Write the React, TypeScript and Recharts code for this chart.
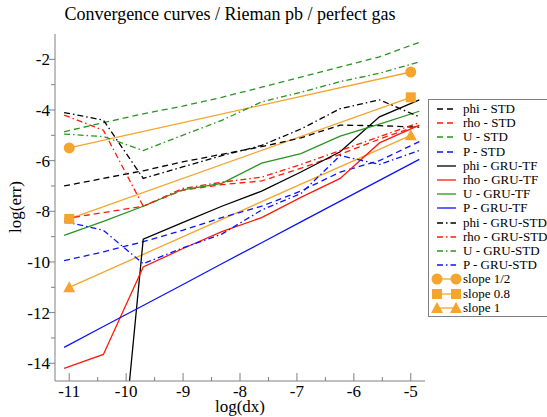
import React from 'react';
import { LineChart, Line, XAxis, YAxis } from 'recharts';

// log(dx) sample points (dx = 2^-16 ... 2^-7)
const X_LOG = [-11.09, -10.40, -9.70, -9.01, -8.32, -7.62, -6.93, -6.24, -5.55, -4.85];

const PHI_STD = [-7.0, -6.7, -6.4, -6.05, -5.75, -5.45, -5.1, -4.6, -4.62, -4.68];
const RHO_STD = [-8.3, -8.05, -7.8, -7.17, -6.95, -6.8, -6.3, -5.75, -5.15, -4.6];
const U_STD = [-4.86, -4.5, -4.15, -3.85, -3.5, -3.1, -2.7, -2.3, -1.9, -1.33];
const P_STD = [-9.95, -9.6, -9.2, -8.75, -8.25, -7.8, -7.2, -6.45, -6.0, -5.25];

const PHI_GRU_TF = [null, -25.4, -9.1, -8.45, -7.8, -7.2, -6.45, -5.65, -4.27, -3.6];
const RHO_GRU_TF = [-14.2, -13.65, -10.2, -9.48, -8.8, -8.25, -7.45, -6.7, -5.3, -4.6];
const U_GRU_TF = [-8.95, -8.4, -7.8, -7.15, -6.9, -6.1, -5.72, -5.03, -4.56, -4.05];
const P_GRU_TF = [-13.37, -12.55, -11.72, -10.9, -10.07, -9.24, -8.42, -7.6, -6.78, -5.95];

const PHI_GRU_STD = [-4.1, -4.4, -6.7, -6.25, -5.8, -5.4, -4.75, -3.95, -3.6, -4.27];
const RHO_GRU_STD = [-4.2, -4.8, -7.8, -7.1, -6.85, -6.65, -6.15, -5.6, -5.05, -4.5];
const U_GRU_STD = [-4.95, -5.05, -5.6, -5.0, -4.41, -3.68, -3.3, -2.88, -2.55, -2.1];
const P_GRU_STD = [-8.4, -8.75, -10.07, -9.45, -8.9, -7.95, -7.3, -5.8, -6.15, -5.6];

// reference slopes, drawn between log(dx) = -11 and -5
const SLOPE_X = [-11, -5];
const SLOPE_HALF = [-5.5, -2.5];
const SLOPE_08 = [-8.3, -3.5];
const SLOPE_1 = [-11, -5];

const X_TICKS = [-11, -10.5, -10, -9.5, -9, -8.5, -8, -7.5, -7, -6.5, -6, -5.5, -5];
const Y_TICKS = [-14, -13, -12, -11, -10, -9, -8, -7, -6, -5, -4, -3, -2];

const BLACK = '#000000';
const RED = '#ff1a0a';
const GREEN = '#2a9420';
const BLUE = '#0a14ff';
const ORANGE = '#f5a42c';
const FRAME = '#808080';
const FONT = 'Liberation Serif, DejaVu Serif, serif';

const DASH = '6 4';
const DASHDOT = '6 3 1.5 3';

const build = (ys: (number | null)[], xs: number[] = X_LOG) => xs.map((x, i) => ({ x, y: ys[i] }));

const series = [
  { name: 'phi - STD', ys: PHI_STD, color: BLACK, dash: DASH },
  { name: 'rho - STD', ys: RHO_STD, color: RED, dash: DASH },
  { name: 'U - STD', ys: U_STD, color: GREEN, dash: DASH },
  { name: 'P - STD', ys: P_STD, color: BLUE, dash: DASH },
  { name: 'phi - GRU-TF', ys: PHI_GRU_TF, color: BLACK, dash: undefined },
  { name: 'rho - GRU-TF', ys: RHO_GRU_TF, color: RED, dash: undefined },
  { name: 'U - GRU-TF', ys: U_GRU_TF, color: GREEN, dash: undefined },
  { name: 'P - GRU-TF', ys: P_GRU_TF, color: BLUE, dash: undefined },
  { name: 'phi - GRU-STD', ys: PHI_GRU_STD, color: BLACK, dash: DASHDOT },
  { name: 'rho - GRU-STD', ys: RHO_GRU_STD, color: RED, dash: DASHDOT },
  { name: 'U - GRU-STD', ys: U_GRU_STD, color: GREEN, dash: DASHDOT },
  { name: 'P - GRU-STD', ys: P_GRU_STD, color: BLUE, dash: DASHDOT },
];

const slopes = [
  { name: 'slope 1/2', ys: SLOPE_HALF, marker: 'circle' },
  { name: 'slope 0.8', ys: SLOPE_08, marker: 'square' },
  { name: 'slope 1', ys: SLOPE_1, marker: 'triangle' },
];

const Marker = ({ cx, cy, kind }: { cx: number; cy: number; kind: string }) => {
  if (kind === 'circle') return <circle cx={cx} cy={cy} r={5.5} fill={ORANGE} />;
  if (kind === 'square') return <rect x={cx - 5} y={cy - 5} width={10} height={10} fill={ORANGE} />;
  return <polygon points={`${cx},${cy - 6} ${cx - 6},${cy + 5} ${cx + 6},${cy + 5}`} fill={ORANGE} />;
};

const isMajor = (v: number) => Number.isInteger(v);

const BottomTick = (props: any) => {
  const { x, y, payload } = props;
  const major = isMajor(payload.value);
  return (
    <g>
      <line x1={x} x2={x} y1={y} y2={y - (major ? 8 : 4)} stroke={FRAME} />
      {major && (
        <text x={x} y={y + 16} textAnchor="middle" fontSize={17} fontFamily={FONT} fill="#000">
          {payload.value}
        </text>
      )}
    </g>
  );
};

const TopTick = (props: any) => {
  const { x, y, payload } = props;
  return <line x1={x} x2={x} y1={y} y2={y + (isMajor(payload.value) ? 8 : 4)} stroke={FRAME} />;
};

const LeftTick = (props: any) => {
  const { x, y, payload } = props;
  const major = payload.value % 2 === 0;
  return (
    <g>
      <line x1={x} x2={x - (major ? 6 : 4)} y1={y} y2={y} stroke={FRAME} />
      {major && (
        <text x={x - 5} y={y} dy="0.35em" textAnchor="end" fontSize={17} fontFamily={FONT} fill="#000">
          {payload.value}
        </text>
      )}
    </g>
  );
};

const RightTick = (props: any) => {
  const { x, y, payload } = props;
  const major = payload.value % 2 === 0;
  return <line x1={x} x2={x - (major ? 8 : 5)} y1={y} y2={y} stroke={FRAME} />;
};

const LegendBox = () => (
  <div
    style={{
      position: 'absolute',
      left: 428,
      top: 99,
      width: 125,
      height: 218,
      border: `1px solid ${FRAME}`,
      background: '#fff',
      fontFamily: FONT,
      fontSize: 13,
      boxSizing: 'border-box',
    }}
  >
    {series.map((s, i) => (
      <div key={s.name} style={{ position: 'absolute', left: 0, top: 2 + i * 14.2, height: 14, display: 'flex', alignItems: 'center' }}>
        <svg width={34} height={14}>
          <line x1={8} x2={27} y1={7} y2={7} stroke={s.color} strokeWidth={1.3} strokeDasharray={s.dash} />
        </svg>
        <span style={{ whiteSpace: 'nowrap' }}>{s.name}</span>
      </div>
    ))}
    {slopes.map((s, i) => (
      <div key={s.name} style={{ position: 'absolute', left: 0, top: 2 + (i + 12) * 14.2, height: 14, display: 'flex', alignItems: 'center' }}>
        <svg width={34} height={14}>
          <line x1={8} x2={27} y1={7} y2={7} stroke={ORANGE} strokeWidth={1.3} />
          <Marker cx={8} cy={7} kind={s.marker} />
          <Marker cx={27} cy={7} kind={s.marker} />
        </svg>
        <span style={{ whiteSpace: 'nowrap' }}>{s.name}</span>
      </div>
    ))}
  </div>
);

export default function App() {
  return (
    <div style={{ position: 'absolute', left: 0, top: 0, width: 547, height: 417, overflow: 'hidden', background: '#fff', fontFamily: FONT }}>
      <div style={{ position: 'absolute', left: 0, width: 460, top: 4, textAlign: 'center', fontFamily: FONT, fontSize: 18 }}>
        Convergence curves / Rieman pb / perfect gas
      </div>
      <LineChart width={547} height={417} margin={{ top: 34, right: 122, bottom: 0, left: 0 }}>
        <XAxis
          dataKey="x"
          type="number"
          domain={[-11.25, -4.75]}
          ticks={X_TICKS}
          allowDataOverflow
          height={36}
          tickSize={0}
          tickMargin={0}
          tickLine={false}
          axisLine={{ stroke: FRAME }}
          tick={<BottomTick />}
          interval={0}
        />
        <XAxis
          xAxisId="top"
          orientation="top"
          type="number"
          domain={[-11.25, -4.75]}
          ticks={X_TICKS}
          allowDataOverflow
          height={0}
          tickSize={0}
          tickMargin={0}
          tickLine={false}
          axisLine={{ stroke: FRAME }}
          tick={<TopTick />}
          interval={0}
        />
        <YAxis
          type="number"
          domain={[-14.7, -1]}
          ticks={Y_TICKS}
          allowDataOverflow
          width={55}
          tickSize={0}
          tickMargin={0}
          tickLine={false}
          axisLine={{ stroke: FRAME }}
          tick={<LeftTick />}
          interval={0}
        />
        <YAxis
          yAxisId="right"
          orientation="right"
          type="number"
          domain={[-14.7, -1]}
          ticks={Y_TICKS}
          allowDataOverflow
          width={0}
          tickSize={0}
          tickMargin={0}
          tickLine={false}
          axisLine={{ stroke: FRAME }}
          tick={<RightTick />}
          interval={0}
        />
        {slopes.map((s) => (
          <Line
            key={s.name}
            data={build(s.ys, SLOPE_X)}
            dataKey="y"
            stroke={ORANGE}
            strokeWidth={1.3}
            dot={(p: any) => <Marker key={p.index} cx={p.cx} cy={p.cy} kind={s.marker} />}
            activeDot={false}
            isAnimationActive={false}
          />
        ))}
        {series.map((s) => (
          <Line
            key={s.name}
            data={build(s.ys)}
            dataKey="y"
            stroke={s.color}
            strokeWidth={1.3}
            strokeDasharray={s.dash}
            dot={false}
            activeDot={false}
            isAnimationActive={false}
          />
        ))}
      </LineChart>
      <div style={{ position: 'absolute', left: 190, width: 100, top: 397, textAlign: 'center', fontFamily: FONT, fontSize: 17 }}>
        log(dx)
      </div>
      <div
        style={{
          position: 'absolute',
          left: 16,
          top: 207,
          transform: 'translate(-50%, -50%) rotate(-90deg)',
          fontFamily: FONT,
          fontSize: 17,
          whiteSpace: 'nowrap',
        }}
      >
        log(err)
      </div>
      <LegendBox />
    </div>
  );
}
